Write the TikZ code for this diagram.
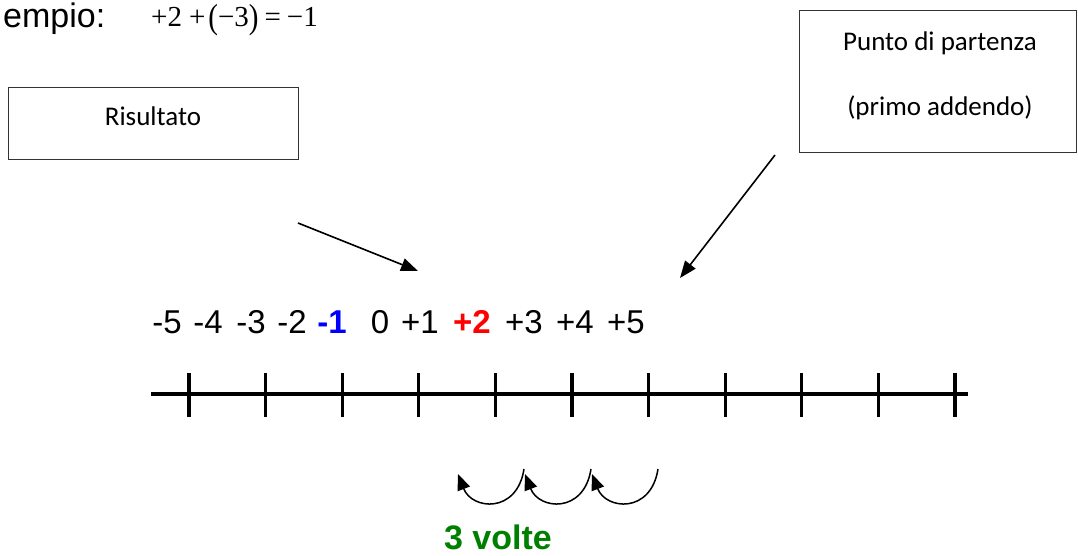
\documentclass[tikz,border=0pt]{standalone}
\usepackage{fontspec}
\setmainfont{Liberation Sans}
\newfontfamily\calibrifont{Carlito}
\newfontfamily\timesfont{Liberation Serif}
\usepackage{tikz}
\usetikzlibrary{arrows.meta}
\tikzset{>={Triangle[length=17pt,width=13pt]}}

\begin{document}
\begin{tikzpicture}[x=1pt, y=-1pt,
    box/.style={draw=black!80, line width=1pt},
    boxtext/.style={anchor=base, font=\calibrifont\fontsize{27}{32}\selectfont},
    num/.style={anchor=base, font=\fontsize{33}{38}\selectfont},
    pointer/.style={->, line width=1.6pt},
    jump/.style={-{Triangle[length=16pt,width=13pt]}, line width=1.5pt}]
      \useasboundingbox (0,0) rectangle (1078,555);
      % heading
      \node[anchor=base west, inner sep=0pt, font=\fontsize{34}{40}\selectfont] (title) at (3,27) {empio:};
      \node[anchor=base west, inner sep=0pt, font=\timesfont\fontsize{29}{34}\selectfont] (sum) at (151,26)
        {+2\hspace{7pt}+\hspace{3pt}\raisebox{-2pt}{\scalebox{1}[1.2]{(}}−3\raisebox{-2pt}{\scalebox{1}[1.2]{)}}\hspace{6pt}=\hspace{6pt}−1};
      % boxes
      \node[box, minimum width=290pt, minimum height=72pt] (res) at (153,123) {};
      \node[boxtext] (restext) at (153,125) {Risultato};
      \node[box, minimum width=277pt, minimum height=142pt] (start) at (937.5,81) {};
      \node[boxtext] (starttext) at (940,50) {Punto di partenza};
      \node[boxtext] (addtext) at (940,115) {(primo addendo)};
      % arrows
      \coordinate (resfrom) at (298,223);
      \coordinate (resto) at (418,271);
      \coordinate (startfrom) at (775,155);
      \coordinate (startto) at (680,278);
      \draw[pointer] (resfrom) -- (resto);
      \draw[pointer] (startfrom) -- (startto);
      % numbers
      \foreach \n/\x [count=\i] in {-5/167, -4/208, -3/251, -2/292, 0/380, +1/420, +3/524, +4/575, +5/626}
        \node[num] (n\i) at (\x,333) {\n};
      \node[num, text=blue, font=\bfseries\fontsize{33}{38}\selectfont] (res1) at (332,333) {-1};
      \node[num, text=red, font=\bfseries\fontsize{33}{38}\selectfont] (start2) at (472,333) {+2};
      % number line
      \draw[line width=3.2pt] (151,394) -- (968,394);
      \foreach \k in {0,...,10}
        \draw[line width=3.2pt] (189+76.6*\k,373) -- (189+76.6*\k,417);
      % three jumps
      \foreach \d in {0,67,134}
        \draw[jump] (658-\d,469) .. controls (651-\d,514) and (606-\d,510) .. (592-\d,474);
      \node[anchor=base, text=green!50!black, font=\bfseries\fontsize{34}{40}\selectfont] (times) at (498,549) {3 volte};
\end{tikzpicture}
\end{document}
